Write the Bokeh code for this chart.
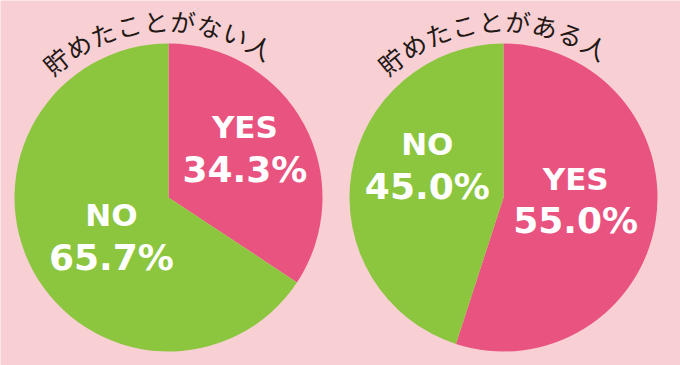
import numpy as np
from bokeh.plotting import figure
from bokeh.models import ColumnDataSource, Range1d
from bokeh.core.properties import value
from bokeh.embed import file_html
from bokeh.resources import INLINE

# ---- data ----
groups = ["貯めたことがない人", "貯めたことがある人"]
categories = ["YES", "NO"]
yes_pct = [34.3, 55.0]
no_pct = [65.7, 45.0]

# ---- style / layout ----
W, H = 680, 365
BG = "#F8D0D4"
COLORS = {"YES": "#E9537F", "NO": "#8CC63F"}
CENTERS_X = [168, 503]
CENTER_Y = H - 197
RADIUS = 154
# label placement (fraction of radius, angle tweak in degrees) per pie per category
LABEL_R = [{"YES": 0.58, "NO": 0.46}, {"YES": 0.47, "NO": 0.53}]
LABEL_DA = [{"YES": 3, "NO": 8}, {"YES": 5, "NO": -12}]
LABEL_DY = 3
TITLE_R = 177
TITLE_A0, TITLE_STEP = -39.5, 8.85

p = figure(width=W, height=H, x_range=Range1d(0, W), y_range=Range1d(0, H),
           min_border=0, toolbar_location=None, output_backend="svg")
p.axis.visible = False
p.grid.visible = False
p.outline_line_color = None
p.background_fill_color = BG
p.border_fill_color = BG

wx, wy, ws, we, wc = [], [], [], [], []
nx, ny, nt = [], [], []
vx, vy, vt = [], [], []
for i, g in enumerate(groups):
    vals = {"YES": yes_pct[i], "NO": no_pct[i]}
    start = 90.0  # degrees, going clockwise
    for c in categories:
        sweep = vals[c] * 3.6
        a_end = start
        a_start = start - sweep
        wx.append(CENTERS_X[i]); wy.append(CENTER_Y)
        ws.append(np.radians(a_start)); we.append(np.radians(a_end))
        wc.append(COLORS[c])
        mid = np.radians((a_start + a_end) / 2 + LABEL_DA[i][c])
        lx = CENTERS_X[i] + LABEL_R[i][c] * RADIUS * np.cos(mid)
        ly = CENTER_Y + LABEL_R[i][c] * RADIUS * np.sin(mid) + LABEL_DY
        nx.append(lx); ny.append(ly + 21); nt.append(c)
        vx.append(lx); vy.append(ly - 21); vt.append(f"{vals[c]:.1f}%")
        start = a_start

p.wedge(x="x", y="y", radius=RADIUS, start_angle="s", end_angle="e",
        fill_color="c", line_color=None,
        source=ColumnDataSource(dict(x=wx, y=wy, s=ws, e=we, c=wc)))

p.text(x=nx, y=ny, text=nt, text_color="white", text_font=value("DejaVu Sans"),
       text_font_style="bold", text_font_size="31px", text_align="center",
       text_baseline="middle")
p.text(x=vx, y=vy, text=vt, text_color="white", text_font=value("DejaVu Sans"),
       text_font_style="bold", text_font_size="36px", text_align="center",
       text_baseline="middle")

# curved titles
tx, ty, tt, ta = [], [], [], []
for i, g in enumerate(groups):
    for k, ch in enumerate(g):
        th = np.radians(TITLE_A0 + TITLE_STEP * k)
        tx.append(CENTERS_X[i] + TITLE_R * np.sin(th))
        ty.append(CENTER_Y + TITLE_R * np.cos(th))
        tt.append(ch)
        ta.append(-th)
p.text(x=tx, y=ty, text=tt, angle=ta, text_color="#231815",
       text_font=value("Noto Sans CJK JP"), text_font_style="normal",
       text_font_size="25px", text_align="center", text_baseline="middle")

open("out.html", "w").write(file_html(p, INLINE))
